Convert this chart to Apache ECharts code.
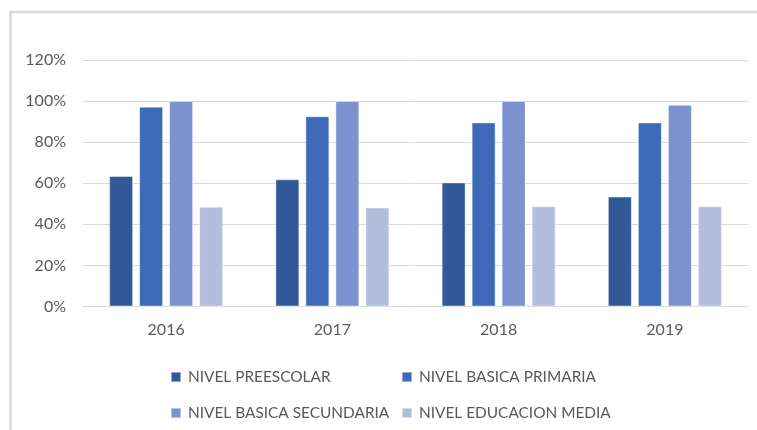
<!DOCTYPE html>
<html>
<head>
<meta charset="utf-8">
<script src="https://cdn.jsdelivr.net/npm/echarts@6/dist/echarts.min.js"></script>
<style>
  html, body { margin: 0; padding: 0; background: #fff; }
  #chart { width: 757px; height: 430px; }
</style>
</head>
<body>
<div id="chart"></div>
<script>
// años y porcentajes por nivel
var years = ['2016', '2017', '2018', '2019'];
var preescolar = [63.5, 61.9, 60.4, 53.5];
var primaria = [97.3, 92.6, 89.6, 89.6];
var secundaria = [100, 100, 100, 98.2];
var media = [48.6, 48.2, 48.8, 48.8];

var names = ['NIVEL PREESCOLAR', 'NIVEL BASICA PRIMARIA', 'NIVEL BASICA SECUNDARIA', 'NIVEL EDUCACION MEDIA'];
var colors = ['#315899', '#3d6ab7', '#7b92ce', '#b3bede'];
var values = [preescolar, primaria, secundaria, media];

var chart = echarts.init(document.getElementById('chart'));

var fontFam = 'Lato, "Open Sans", sans-serif';

function legendBox(left, data) {
  return {
    orient: 'vertical',
    left: left,
    top: 364,
    icon: 'rect',
    itemWidth: 10,
    itemHeight: 10,
    itemGap: 20,
    data: data,
    textStyle: {
      fontFamily: fontFam,
      fontSize: 15.4,
      lineHeight: 16,
      color: '#595959',
      padding: [0, 0, 0, 2]
    }
  };
}

var series = names.map(function (n, i) {
  return {
    name: n,
    type: 'bar',
    barWidth: 24,
    barGap: '25%',
    itemStyle: { color: colors[i], borderColor: 'rgba(255,255,255,0.45)', borderWidth: 1 },
    emphasis: { disabled: true },
    data: values[i]
  };
});

var option = {
  animation: false,
  color: colors,
  graphic: [{
    type: 'rect',
    shape: { x: 10.5, y: 12, width: 780, height: 440 },
    style: { fill: null, stroke: '#d9d9d9', lineWidth: 2.5 },
    silent: true
  }],
  grid: { left: 83, right: 9, top: 60, bottom: 123.5 },
  legend: [
    legendBox(165, [names[0], names[2]]),
    legendBox(396, [names[1], names[3]])
  ],
  xAxis: {
    type: 'category',
    data: years,
    axisLine: { lineStyle: { color: '#d9d9d9', width: 1 } },
    axisTick: { show: false },
    axisLabel: { fontFamily: fontFam, fontSize: 16, color: '#595959', margin: 15 }
  },
  yAxis: {
    type: 'value',
    min: 0,
    max: 120,
    interval: 20,
    axisLine: { show: false },
    axisTick: { show: false },
    splitLine: { lineStyle: { color: '#d9d9d9', width: 1 } },
    axisLabel: { formatter: '{value}%', fontFamily: fontFam, fontSize: 16, color: '#595959', margin: 17 }
  },
  series: series
};

chart.setOption(option);
</script>
</body>
</html>
